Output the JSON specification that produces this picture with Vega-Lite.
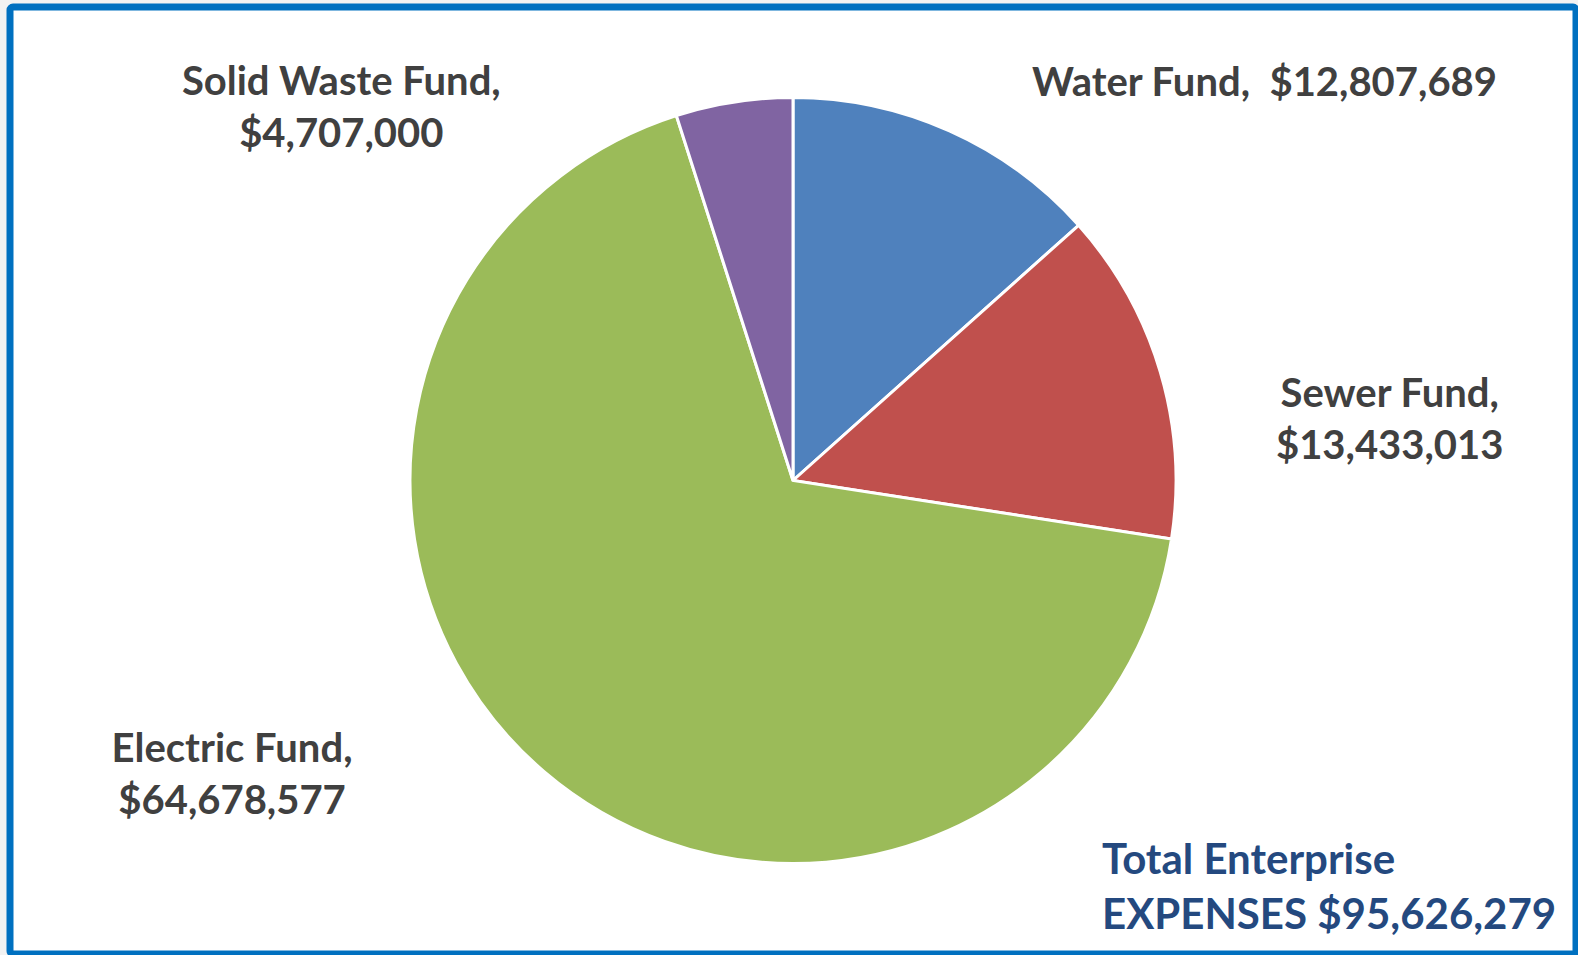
{
  "$schema": "https://vega.github.io/schema/vega-lite/v6.json",
  "autosize": "none",
  "width": 1566,
  "height": 947,
  "padding": {"left": 10, "top": 7, "right": 2, "bottom": 1},
  "background": "#f2f2f2",
  "view": {"fill": "white", "stroke": "#0070C0", "strokeWidth": 7, "cornerRadius": 3},
  "title": {
    "text": ["Total Enterprise", "EXPENSES $95,626,279"],
    "orient": "bottom",
    "anchor": "end",
    "align": "left",
    "dx": -474,
    "offset": -113,
    "baseline": "top",
    "font": "Lato",
    "fontSize": 42,
    "fontWeight": "bold",
    "color": "#24497F",
    "lineHeight": 55
  },
  "data": {
    "values": [
      {"fund": "Water Fund", "amount": 12807689, "order": 1, "label": "Water Fund,\u00a0 $12,807,689"},
      {"fund": "Sewer Fund", "amount": 13433013, "order": 2, "label": "Sewer Fund,\n$13,433,013"},
      {"fund": "Electric Fund", "amount": 64678577, "order": 3, "label": "Electric Fund,\n$64,678,577"},
      {"fund": "Solid Waste Fund", "amount": 4707000, "order": 4, "label": "Solid Waste Fund,\n$4,707,000"}
    ]
  },
  "encoding": {
    "theta": {"field": "amount", "type": "quantitative", "stack": true},
    "order": {"field": "order", "type": "quantitative"}
  },
  "layer": [
    {
      "mark": {"type": "arc", "outerRadius": 383, "stroke": "white", "strokeWidth": 3},
      "encoding": {
        "color": {
          "field": "fund",
          "type": "nominal",
          "scale": {
            "domain": ["Water Fund", "Sewer Fund", "Electric Fund", "Solid Waste Fund"],
            "range": ["#4F81BD", "#C0504D", "#9BBB59", "#8064A2"]
          },
          "legend": null
        }
      }
    },
    {
      "mark": {"type": "text", "radius": 420, "dx": 300, "dy": -13, "font": "Lato", "fontSize": 40, "fontWeight": "bold", "color": "#404040", "lineBreak": "\n", "lineHeight": 52, "align": "center", "baseline": "middle"},
      "encoding": {"text": {"condition": {"test": "datum.order == 1", "field": "label"}, "value": ""}}
    },
    {
      "mark": {"type": "text", "radius": 420, "dx": 194, "dy": 34, "font": "Lato", "fontSize": 40, "fontWeight": "bold", "color": "#404040", "lineBreak": "\n", "lineHeight": 52, "align": "center", "baseline": "middle"},
      "encoding": {"text": {"condition": {"test": "datum.order == 2", "field": "label"}, "value": ""}}
    },
    {
      "mark": {"type": "text", "radius": 420, "dx": -288, "dy": -50, "font": "Lato", "fontSize": 40, "fontWeight": "bold", "color": "#404040", "lineBreak": "\n", "lineHeight": 52, "align": "center", "baseline": "middle"},
      "encoding": {"text": {"condition": {"test": "datum.order == 3", "field": "label"}, "value": ""}}
    },
    {
      "mark": {"type": "text", "radius": 420, "dx": -387, "dy": 17, "font": "Lato", "fontSize": 40, "fontWeight": "bold", "color": "#404040", "lineBreak": "\n", "lineHeight": 52, "align": "center", "baseline": "middle"},
      "encoding": {"text": {"condition": {"test": "datum.order == 4", "field": "label"}, "value": ""}}
    }
  ]
}
